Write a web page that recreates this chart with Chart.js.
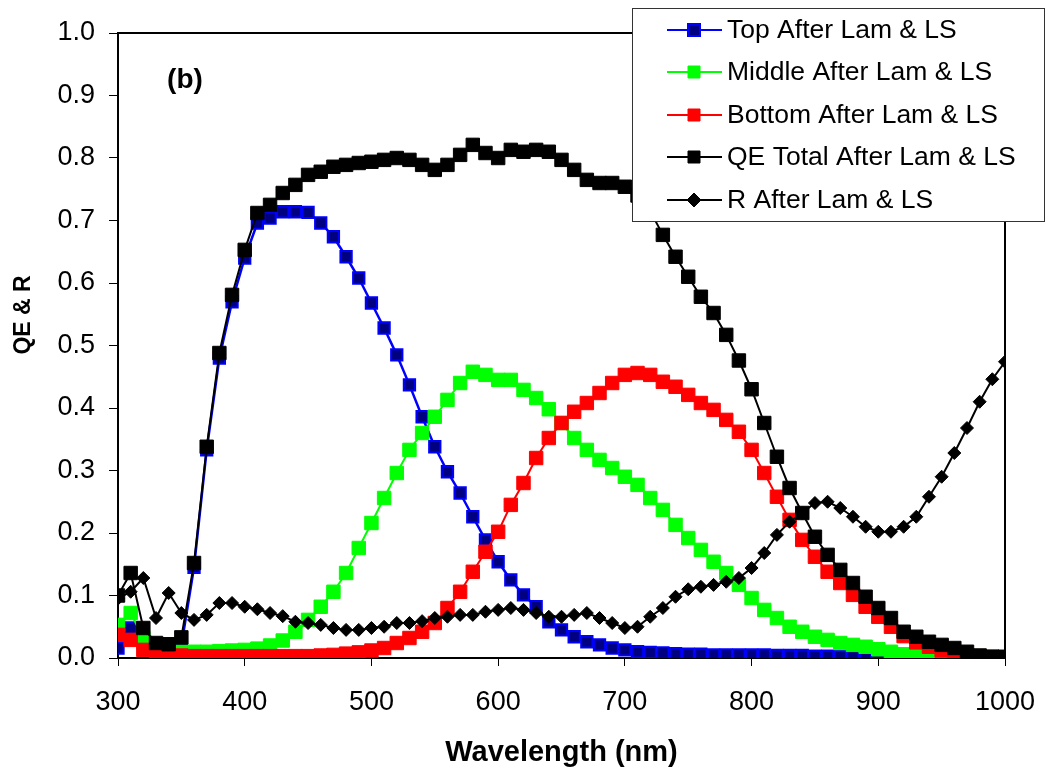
<!DOCTYPE html>
<html>
<head>
<meta charset="utf-8">
<script src="https://cdn.jsdelivr.net/npm/chart.js@4.4.0/dist/chart.umd.min.js"></script>
<style>
  html, body { margin: 0; padding: 0; background: #fff; }
  #wrap { width: 1045px; height: 770px; }
</style>
</head>
<body>
<div id="wrap"><canvas id="qeChart"></canvas></div>
<script>
const wavelength = [300, 310, 320, 330, 340, 350, 360, 370, 380, 390,
  400, 410, 420, 430, 440, 450, 460, 470, 480, 490,
  500, 510, 520, 530, 540, 550, 560, 570, 580, 590,
  600, 610, 620, 630, 640, 650, 660, 670, 680, 690,
  700, 710, 720, 730, 740, 750, 760, 770, 780, 790,
  800, 810, 820, 830, 840, 850, 860, 870, 880, 890,
  900, 910, 920, 930, 940, 950, 960, 970, 980, 990, 1000];

const topLam = [0.016, 0.048, 0.025, 0.015, 0.012, 0.020, 0.145, 0.333, 0.480, 0.570,
  0.640, 0.696, 0.704, 0.714, 0.714, 0.713, 0.696, 0.674, 0.642, 0.608,
  0.568, 0.528, 0.485, 0.437, 0.386, 0.338, 0.298, 0.264, 0.226, 0.189,
  0.154, 0.125, 0.101, 0.082, 0.058, 0.045, 0.034, 0.026, 0.021, 0.016,
  0.013, 0.010, 0.009, 0.008, 0.007, 0.006, 0.006, 0.005, 0.005, 0.005,
  0.005, 0.005, 0.004, 0.004, 0.004, 0.003, 0.003, 0.002, 0.002, 0.001,
  0.001, 0.000, null, null, null, null, null, null, null, null, null];

const middleLam = [0.053, 0.072, 0.032, 0.015, 0.012, 0.010, 0.010, 0.010, 0.011, 0.012,
  0.013, 0.015, 0.020, 0.028, 0.042, 0.061, 0.082, 0.106, 0.136, 0.176,
  0.216, 0.256, 0.296, 0.333, 0.360, 0.386, 0.413, 0.440, 0.458, 0.453,
  0.445, 0.445, 0.429, 0.416, 0.398, 0.376, 0.352, 0.333, 0.317, 0.304,
  0.290, 0.277, 0.256, 0.237, 0.213, 0.192, 0.173, 0.154, 0.136, 0.117,
  0.096, 0.077, 0.064, 0.050, 0.042, 0.034, 0.029, 0.024, 0.021, 0.018,
  0.014, 0.010, 0.006, 0.003, 0.002, 0.001, 0.001, 0.000, null, null, null];

const bottomLam = [0.037, 0.029, 0.013, 0.005, 0.004, 0.004, 0.003, 0.003, 0.003, 0.003,
  0.003, 0.003, 0.003, 0.003, 0.003, 0.003, 0.004, 0.005, 0.007, 0.009,
  0.012, 0.016, 0.024, 0.032, 0.042, 0.056, 0.080, 0.106, 0.138, 0.170,
  0.202, 0.245, 0.280, 0.320, 0.352, 0.376, 0.394, 0.408, 0.424, 0.440,
  0.453, 0.456, 0.453, 0.442, 0.434, 0.421, 0.408, 0.397, 0.381, 0.362,
  0.333, 0.296, 0.258, 0.221, 0.189, 0.162, 0.138, 0.120, 0.101, 0.082,
  0.066, 0.050, 0.035, 0.025, 0.018, 0.012, 0.008, 0.005, 0.003, 0.002, 0.001];

const totalLam = [0.100, 0.136, 0.048, 0.024, 0.022, 0.033, 0.152, 0.338, 0.488, 0.581,
  0.653, 0.712, 0.725, 0.744, 0.757, 0.773, 0.778, 0.786, 0.789, 0.792,
  0.794, 0.797, 0.800, 0.797, 0.789, 0.781, 0.789, 0.805, 0.821, 0.808,
  0.800, 0.813, 0.810, 0.813, 0.810, 0.797, 0.781, 0.765, 0.760, 0.760,
  0.754, 0.740, 0.715, 0.677, 0.642, 0.610, 0.578, 0.552, 0.517, 0.476,
  0.430, 0.376, 0.322, 0.272, 0.232, 0.194, 0.165, 0.141, 0.120, 0.098,
  0.080, 0.064, 0.042, 0.034, 0.026, 0.021, 0.016, 0.010, 0.004, 0.002, 0.002];

const reflLam = [0.095, 0.106, 0.128, 0.064, 0.104, 0.072, 0.061, 0.069, 0.088, 0.088,
  0.082, 0.078, 0.072, 0.067, 0.058, 0.056, 0.053, 0.048, 0.045, 0.045,
  0.048, 0.050, 0.056, 0.056, 0.059, 0.064, 0.066, 0.069, 0.069, 0.074,
  0.077, 0.080, 0.077, 0.072, 0.066, 0.066, 0.069, 0.072, 0.064, 0.056,
  0.048, 0.050, 0.066, 0.080, 0.098, 0.110, 0.114, 0.117, 0.122, 0.128,
  0.144, 0.168, 0.197, 0.218, 0.232, 0.248, 0.250, 0.240, 0.226, 0.210,
  0.202, 0.202, 0.210, 0.226, 0.258, 0.290, 0.328, 0.368, 0.410, 0.446, 0.474];

const yTicks = [0, 0.1, 0.2, 0.3, 0.4, 0.5, 0.6, 0.7, 0.8, 0.9, 1.0];
const xTicks = [300, 400, 500, 600, 700, 800, 900, 1000];

const font = "'Liberation Sans', Arial, sans-serif";

function pairs(arr) {
  return wavelength.map((w, i) => ({ x: w, y: arr[i] }));
}

// frame, panel label, y title
const extras = {
  id: 'extras',
  beforeDatasetsDraw(chart) {
    const { ctx, chartArea: a } = chart;
    ctx.save();
    ctx.strokeStyle = '#000';
    ctx.lineWidth = 2;
    ctx.beginPath();
    ctx.moveTo(a.left, a.top);
    ctx.lineTo(a.right, a.top);
    ctx.lineTo(a.right, a.bottom);
    ctx.stroke();
    ctx.fillStyle = '#000';
    ctx.font = 'bold 28px ' + font;
    ctx.textAlign = 'center';
    ctx.textBaseline = 'middle';
    ctx.fillText('(b)', 185, 80);
    ctx.translate(24, 315);
    ctx.rotate(-Math.PI / 2);
    ctx.font = 'bold 23px ' + font;
    ctx.fillText('QE & R', 0, 0);
    ctx.restore();
  }
};

// Excel style legend box sitting over the top right corner
const legendBox = {
  id: 'legendBox',
  afterDraw(chart) {
    const ctx = chart.ctx;
    ctx.save();
    ctx.fillStyle = '#fff';
    ctx.fillRect(632, 8, 412, 213);
    ctx.strokeStyle = '#333';
    ctx.lineWidth = 1;
    ctx.strokeRect(632.5, 8.5, 412, 213);
    const rows = [30, 72, 115, 157, 200];
    chart.data.datasets.forEach((ds, i) => {
      const y = rows[i];
      ctx.strokeStyle = ds.borderColor;
      ctx.lineWidth = 2;
      ctx.beginPath();
      ctx.moveTo(667, y);
      ctx.lineTo(722, y);
      ctx.stroke();
      ctx.fillStyle = ds.pointBackgroundColor;
      ctx.strokeStyle = ds.pointBorderColor;
      ctx.lineWidth = ds.pointBorderWidth;
      ctx.beginPath();
      if (ds.pointStyle === 'rectRot') {
        ctx.moveTo(694, y - 7);
        ctx.lineTo(701, y);
        ctx.lineTo(694, y + 7);
        ctx.lineTo(687, y);
        ctx.closePath();
      } else {
        ctx.rect(688, y - 6, 12, 12);
      }
      ctx.fill();
      ctx.stroke();
      ctx.fillStyle = '#000';
      ctx.font = '26.5px ' + font;
      ctx.textAlign = 'left';
      ctx.textBaseline = 'middle';
      ctx.fillText(ds.label, 727, y + 1);
    });
    ctx.restore();
  }
};

new Chart(document.getElementById('qeChart'), {
  type: 'line',
  data: {
    datasets: [{
      label: 'Top After Lam & LS',
      data: pairs(topLam),
      borderColor: '#0000FF',
      borderWidth: 2.5,
      pointStyle: 'rect',
      pointRadius: 8,
      pointBackgroundColor: '#000080',
      pointBorderColor: '#0000FF',
      pointBorderWidth: 2,
      order: 5
    }, {
      label: 'Middle After Lam & LS',
      data: pairs(middleLam),
      borderColor: '#00FF00',
      borderWidth: 2,
      pointStyle: 'rect',
      pointRadius: 9.5,
      pointBackgroundColor: '#00FF00',
      pointBorderColor: '#00FF00',
      pointBorderWidth: 1,
      order: 4
    }, {
      label: 'Bottom After Lam & LS',
      data: pairs(bottomLam),
      borderColor: '#FF0000',
      borderWidth: 2,
      pointStyle: 'rect',
      pointRadius: 9.5,
      pointBackgroundColor: '#FF0000',
      pointBorderColor: '#FF0000',
      pointBorderWidth: 1,
      order: 3
    }, {
      label: 'QE Total After Lam & LS',
      data: pairs(totalLam),
      borderColor: '#000000',
      borderWidth: 2,
      pointStyle: 'rect',
      pointRadius: 9.5,
      pointBackgroundColor: '#000000',
      pointBorderColor: '#000000',
      pointBorderWidth: 1,
      order: 2
    }, {
      label: 'R After Lam & LS',
      data: pairs(reflLam),
      borderColor: '#000000',
      borderWidth: 2,
      pointStyle: 'rectRot',
      pointRadius: 6.5,
      pointBackgroundColor: '#000000',
      pointBorderColor: '#000000',
      pointBorderWidth: 1,
      order: 1
    }]
  },
  options: {
    responsive: true,
    maintainAspectRatio: false,
    animation: false,
    layout: { autoPadding: false, padding: { top: 33, right: 40, left: 0, bottom: 0 } },
    plugins: {
      legend: { display: false },
      tooltip: { enabled: false }
    },
    scales: {
      x: {
        type: 'linear',
        min: 300,
        max: 1000,
        afterFit(scale) {
          scale.height = 112;
          scale.paddingLeft = 0;
          scale.paddingRight = 0;
        },
        afterBuildTicks(scale) { scale.ticks = xTicks.map(v => ({ value: v })); },
        ticks: {
          color: '#000',
          font: { family: font, size: 27 },
          padding: 20,
          maxRotation: 0,
          callback: v => String(v)
        },
        grid: { drawOnChartArea: false, drawTicks: true, tickLength: 8, color: '#000', lineWidth: 1 },
        border: { display: true, color: '#000', width: 2 },
        title: {
          display: true,
          text: 'Wavelength (nm)',
          color: '#000',
          font: { family: font, size: 29, weight: 'bold' },
          padding: { top: 0, bottom: 0 }
        }
      },
      y: {
        min: 0,
        max: 1,
        afterFit(scale) {
          scale.width = 118;
          scale.paddingTop = 0;
          scale.paddingBottom = 0;
        },
        afterBuildTicks(scale) { scale.ticks = yTicks.map(v => ({ value: v })); },
        ticks: {
          color: '#000',
          font: { family: font, size: 27 },
          padding: 14,
          callback: v => v.toFixed(1)
        },
        grid: { drawOnChartArea: false, drawTicks: true, tickLength: 9, color: '#000', lineWidth: 1 },
        border: { display: true, color: '#000', width: 2 }
      }
    }
  },
  plugins: [extras, legendBox]
});
</script>
</body>
</html>
